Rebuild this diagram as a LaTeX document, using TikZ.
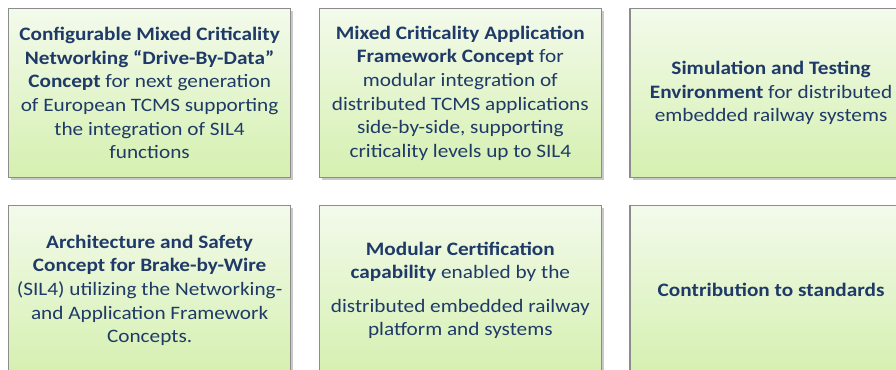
\documentclass[tikz,border=0pt]{standalone}
\usepackage{fontspec}
\setmainfont{Carlito}[FakeStretch=1.12]
\usepackage{xcolor}
\usetikzlibrary{positioning, shadows}
\definecolor{textblue}{RGB}{31,58,104}
\definecolor{boxtop}{RGB}{243,250,235}
\definecolor{boxbottom}{RGB}{213,240,176}
\tikzset{
    goal/.style={
        rectangle,
        draw=black!45,
        line width=0.7pt,
        top color=boxtop,
        bottom color=boxbottom,
        minimum width=5.64cm,
        minimum height=3.38cm,
        inner sep=0pt,
        align=center,
        text=textblue,
        font=\fontsize{10.8}{13.4}\selectfont,
        drop shadow={shadow xshift=0.05cm, shadow yshift=-0.05cm, opacity=0.3, fill=black!70}
    }
}
\begin{document}
\begin{tikzpicture}[node distance=0.54cm and 0.55cm]
        \useasboundingbox (0,0) rectangle (17.92,-7.38);
        \clip (0,0) rectangle (17.92,-7.38);

        % Top row
        \node[goal, anchor=north west] (network) at (0.16,-0.16) {\textbf{Configurable Mixed Criticality}\\ \textbf{Networking “Drive-By-Data”}\\ \textbf{Concept} for next generation\\ of European TCMS supporting\\ the integration of SIL4\\ functions};
        \node[goal, right=of network] (framework) {\textbf{Mixed Criticality Application}\\ \textbf{Framework Concept} for\\ modular integration of\\ distributed TCMS applications\\ side-by-side, supporting\\ criticality levels up to SIL4};
        \node[goal, right=of framework] (simulation) {\textbf{Simulation and Testing}\\ \textbf{Environment} for distributed\\ embedded railway systems};

        % Bottom row
        \node[goal, below=of network] (brake) {\textbf{Architecture and Safety}\\ \textbf{Concept for Brake-by-Wire}\\ (SIL4) utilizing the Networking-\\ and Application Framework\\ Concepts.};
        \node[goal, below=of framework] (certify) {\textbf{Modular Certification}\\ \textbf{capability} enabled by the\\[5.5pt] distributed embedded railway\\ platform and systems};
        \node[goal, below=of simulation] (standards) {\textbf{Contribution to standards}};
\end{tikzpicture}
\end{document}
